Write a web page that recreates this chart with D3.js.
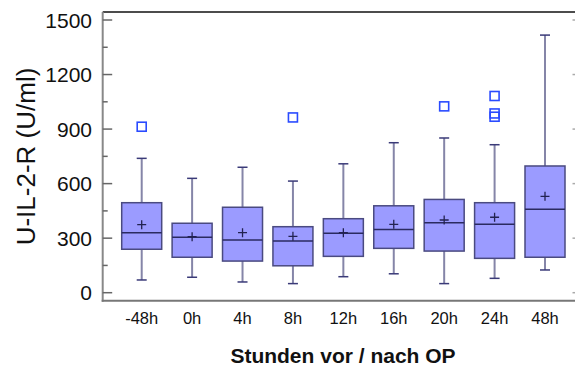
<!DOCTYPE html>
<html><head><meta charset="utf-8">
<script src="https://cdn.jsdelivr.net/npm/d3@7"></script>
<style>body{margin:0;background:#fff}svg{display:block}text{font-family:"Liberation Sans",Arial,sans-serif}</style>
</head><body>
<svg id="c" width="575" height="370"></svg>
<script>
const categories = ["-48h","0h","4h","8h","12h","16h","20h","24h","48h"];
const whiskerLow  = [70, 85, 59, 50, 88, 104, 50, 79, 125];
const q1          = [239, 195, 174, 148, 200, 244, 229, 189, 195];
const median      = [330, 305, 290, 284, 327, 348, 385, 376, 459];
const q3          = [495, 382, 470, 363, 407, 478, 513, 495, 697];
const whiskerHigh = [739, 629, 690, 614, 709, 825, 851, 814, 1417];
const mean        = [374, 308, 330, 310, 330, 376, 400, 415, 530];
const outliers    = [[913], [], [], [964], [], [], [1025], [1082, 986, 968], []];
const yTicks = [0, 300, 600, 900, 1200, 1500];
const yMinor = [150, 450, 750, 1050, 1350];

const svg = d3.select("#c");
const x = d3.scalePoint().domain(categories).range([141.7, 545]);
const y = d3.scaleLinear().domain([0, 1500]).range([292.7, 20]);
const L = 102.7, T = 12, B = 300.7, R = 575;

// frame
svg.append("line").attr("x1", L).attr("x2", R).attr("y1", T).attr("y2", T).attr("stroke", "#111").attr("stroke-width", 1.5);
svg.append("line").attr("x1", L).attr("x2", L).attr("y1", T).attr("y2", B + 1).attr("stroke", "#888").attr("stroke-width", 2);
svg.append("line").attr("x1", L - 1).attr("x2", R).attr("y1", B).attr("y2", B).attr("stroke", "#777").attr("stroke-width", 2);

// y axis ticks and labels
const ya = svg.append("g");
ya.selectAll(".maj").data(yTicks).join("line")
  .attr("x1", L).attr("x2", L + 9.5).attr("y1", d => y(d)).attr("y2", d => y(d))
  .attr("stroke", "#666").attr("stroke-width", 1.5);
ya.selectAll(".min").data(yMinor).join("line").attr("class","min")
  .attr("x1", L).attr("x2", L + 5).attr("y1", d => y(d)).attr("y2", d => y(d))
  .attr("stroke", "#666").attr("stroke-width", 1.5);
ya.selectAll("text").data(yTicks).join("text")
  .attr("x", 92).attr("y", d => y(d) + 7.5).attr("text-anchor", "end")
  .attr("font-size", 21).attr("fill", "#111").text(d => d);
// right side small ticks
svg.append("g").selectAll("line").data(yTicks).join("line")
  .attr("x1", R - 2.5).attr("x2", R).attr("y1", d => y(d)).attr("y2", d => y(d))
  .attr("stroke", "#aaa").attr("stroke-width", 1.5);

// x labels
svg.append("g").selectAll("text").data(categories).join("text")
  .attr("x", d => x(d)).attr("y", 323.5).attr("text-anchor", "middle")
  .attr("font-size", 16.5).attr("fill", "#111").text(d => d);

// titles
svg.append("text").attr("x", 343).attr("y", 363).attr("text-anchor", "middle")
  .attr("font-size", 21).attr("font-weight", "bold").attr("fill", "#111").text("Stunden vor / nach OP");
svg.append("text").attr("transform", "translate(35,156.5) rotate(-90)").attr("text-anchor", "middle")
  .attr("font-size", 26).attr("fill", "#111").text("U-IL-2-R (U/ml)");

// boxes
const bw = 40, cw = 10;
const g = svg.append("g").selectAll("g").data(categories).join("g");
g.append("line").attr("x1", d => x(d)).attr("x2", d => x(d))
  .attr("y1", (d, i) => y(whiskerHigh[i])).attr("y2", (d, i) => y(whiskerLow[i]))
  .attr("stroke", "#8585a8").attr("stroke-width", 2);
g.append("line").attr("x1", d => x(d) - cw / 2).attr("x2", d => x(d) + cw / 2)
  .attr("y1", (d, i) => y(whiskerHigh[i])).attr("y2", (d, i) => y(whiskerHigh[i]))
  .attr("stroke", "#3a3a78").attr("stroke-width", 1.5);
g.append("line").attr("x1", d => x(d) - cw / 2).attr("x2", d => x(d) + cw / 2)
  .attr("y1", (d, i) => y(whiskerLow[i])).attr("y2", (d, i) => y(whiskerLow[i]))
  .attr("stroke", "#3a3a78").attr("stroke-width", 1.5);
g.append("rect").attr("x", d => x(d) - bw / 2).attr("width", bw)
  .attr("y", (d, i) => y(q3[i])).attr("height", (d, i) => y(q1[i]) - y(q3[i]))
  .attr("fill", "#9b9bff").attr("stroke", "#4a4a80").attr("stroke-width", 1.5);
g.append("line").attr("x1", d => x(d) - bw / 2).attr("x2", d => x(d) + bw / 2)
  .attr("y1", (d, i) => y(median[i])).attr("y2", (d, i) => y(median[i]))
  .attr("stroke", "#2a2a60").attr("stroke-width", 1.5);
g.append("path").attr("d", (d, i) => {
    const cx = x(d), cy = y(mean[i]);
    return `M${cx - 4.5},${cy}H${cx + 4.5}M${cx},${cy - 4.5}V${cy + 4.5}`;
  }).attr("stroke", "#222250").attr("stroke-width", 1.3).attr("fill", "none");
g.each(function (d, i) {
  d3.select(this).selectAll("rect.o").data(outliers[i]).join("rect").attr("class", "o")
    .attr("x", x(d) - 4.5).attr("y", v => y(v) - 4.5).attr("width", 9).attr("height", 9)
    .attr("fill", "none").attr("stroke", "#2a4bff").attr("stroke-width", 1.6);
});
</script>
</body></html>
